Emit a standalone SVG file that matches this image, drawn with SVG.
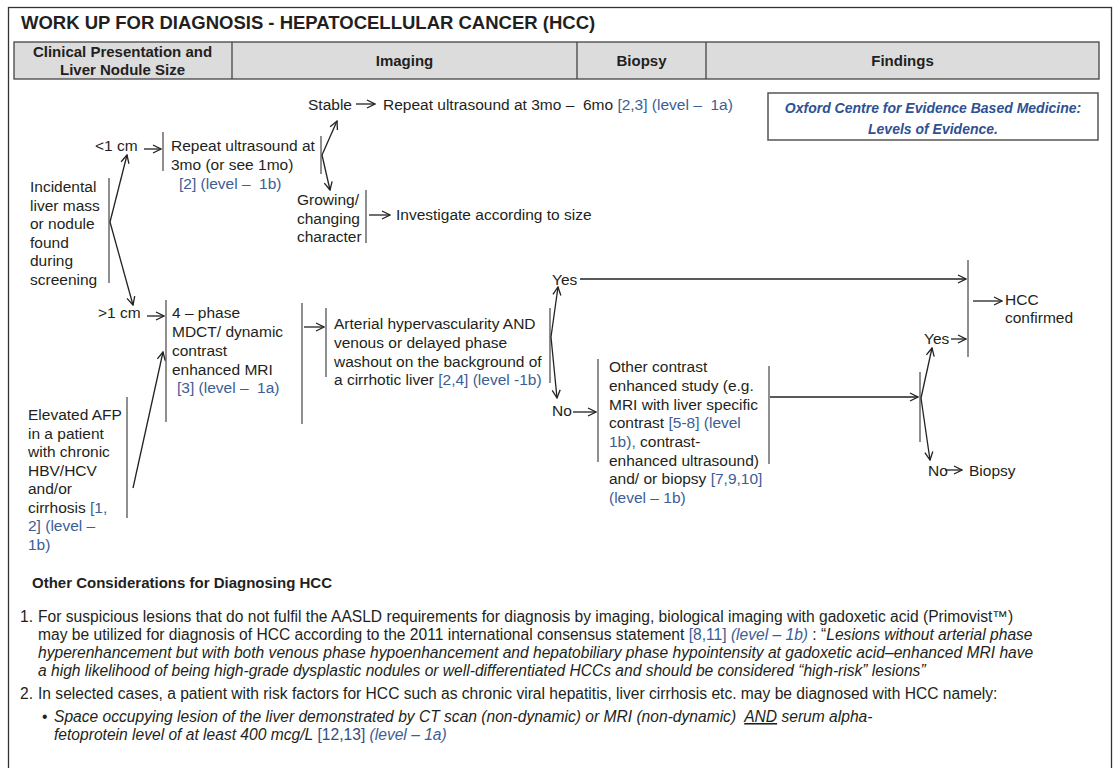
<svg xmlns="http://www.w3.org/2000/svg" width="1118" height="768" viewBox="0 0 1118 768">
<style>
text{font-family:"Liberation Sans",Arial,sans-serif;fill:#231f20;}
.t{font-size:15.5px;}
.n{font-size:15.6px;}
.h{font-size:15px;font-weight:bold;}
.b{fill:#3c5d95;}
.i{font-style:italic;}
.bar{stroke:#6a6a6a;stroke-width:1.5;fill:none;}
.c{stroke:#222;stroke-width:1.3;fill:none;}
</style>
<defs>
<marker id="ah" viewBox="0 0 10 10" markerWidth="10" markerHeight="10" refX="9" refY="5" orient="auto" markerUnits="userSpaceOnUse">
<path d="M1,1 L9,5 L1,9" fill="none" stroke="#222" stroke-width="1.3"/>
</marker>
</defs>
<rect x="0" y="0" width="1118" height="768" fill="#fff"/>
<rect x="8.5" y="7.5" width="1103" height="800" fill="#fff" stroke="#333" stroke-width="1.3"/>
<g id="title">
<text x="21" y="29" style="font-size:18.5px;font-weight:bold">WORK UP FOR DIAGNOSIS - HEPATOCELLULAR CANCER (HCC)</text>
</g>
<g id="header">
<rect x="14" y="42" width="1085" height="37" fill="#dcdcdc" stroke="#444" stroke-width="1.3"/>
<line x1="232" y1="42" x2="232" y2="79" stroke="#444" stroke-width="1.3"/>
<line x1="577" y1="42" x2="577" y2="79" stroke="#444" stroke-width="1.3"/>
<line x1="706" y1="42" x2="706" y2="79" stroke="#444" stroke-width="1.3"/>
<text class="h" x="122.5" y="57" text-anchor="middle">Clinical Presentation and</text>
<text class="h" x="122.5" y="75" text-anchor="middle">Liver Nodule Size</text>
<text class="h" x="404.5" y="66" text-anchor="middle">Imaging</text>
<text class="h" x="641.5" y="66" text-anchor="middle">Biopsy</text>
<text class="h" x="902.5" y="66" text-anchor="middle">Findings</text>
</g>
<g id="oxford">
<rect x="768" y="93" width="330" height="47" fill="#fff" stroke="#555" stroke-width="1.5"/>
<text x="933" y="113" text-anchor="middle" style="font-size:14px;font-weight:bold;font-style:italic;fill:#2f5191">Oxford Centre for Evidence Based Medicine:</text>
<text x="933" y="134" text-anchor="middle" style="font-size:14px;font-weight:bold;font-style:italic;fill:#2f5191">Levels of Evidence.</text>
</g>
<g id="incidental">
<text class="t" x="30" y="192">Incidental</text>
<text class="t" x="30" y="210.5">liver mass</text>
<text class="t" x="30" y="229">or nodule</text>
<text class="t" x="30" y="247.5">found</text>
<text class="t" x="30" y="266">during</text>
<text class="t" x="30" y="285">screening</text>
<line class="bar" x1="109" y1="178" x2="109" y2="283"/>
</g>
<g id="lt1cm">
<text class="t" x="95" y="151">&lt;1 cm</text>
</g>
<g id="repeat-us">
<line class="bar" x1="163" y1="132" x2="163" y2="171"/>
<text class="t" x="171" y="151">Repeat ultrasound at</text>
<text class="t" x="171" y="170">3mo (or see 1mo)</text>
<text class="t b" x="179" y="189">[2] (level –&#160; 1b)</text>
<line class="bar" x1="321" y1="136" x2="321" y2="174"/>
</g>
<g id="stable">
<text class="t" x="308" y="110">Stable</text>
</g>
<g id="repeat-3-6">
<text class="t" x="383" y="110">Repeat ultrasound at 3mo –&#160; 6mo <tspan class="b">[2,3] (level –&#160; 1a)</tspan></text>
</g>
<g id="growing">
<text class="t" x="297" y="205">Growing/</text>
<text class="t" x="297" y="223.5">changing</text>
<text class="t" x="297" y="242">character</text>
<line class="bar" x1="366" y1="190" x2="366" y2="243"/>
</g>
<g id="investigate">
<text class="t" x="396" y="220">Investigate according to size</text>
</g>
<g id="gt1cm">
<text class="t" x="98" y="318">&gt;1 cm</text>
</g>
<g id="elevated-afp">
<text class="t" x="28" y="420">Elevated AFP</text>
<text class="t" x="28" y="438.5">in a patient</text>
<text class="t" x="28" y="457">with chronic</text>
<text class="t" x="28" y="475.5">HBV/HCV</text>
<text class="t" x="28" y="494">and/or</text>
<text class="t" x="28" y="512.5">cirrhosis <tspan class="b">[1,</tspan></text>
<text class="t b" x="28" y="531">2] (level –</text>
<text class="t b" x="28" y="549.5">1b)</text>
<line class="bar" x1="127" y1="397" x2="127" y2="518"/>
</g>
<g id="mdct">
<line class="bar" x1="166" y1="300" x2="166" y2="422"/>
<text class="t" x="172" y="318">4 – phase</text>
<text class="t" x="172" y="337">MDCT/ dynamic</text>
<text class="t" x="172" y="356">contrast</text>
<text class="t" x="172" y="375">enhanced MRI</text>
<text class="t b" x="177" y="393">[3] (level –&#160; 1a)</text>
<line class="bar" x1="302" y1="303" x2="302" y2="424"/>
</g>
<g id="arterial">
<line class="bar" x1="326" y1="308" x2="326" y2="377"/>
<text class="t" x="334" y="329">Arterial hypervascularity AND</text>
<text class="t" x="334" y="348">venous or delayed phase</text>
<text class="t" x="334" y="366.5">washout on the background of</text>
<text class="t" x="334" y="385">a cirrhotic liver <tspan class="b">[2,4] (level -1b)</tspan></text>
<line class="bar" x1="550" y1="308" x2="550" y2="383"/>
</g>
<g id="yes1">
<text class="t" x="552" y="285">Yes</text>
</g>
<g id="no1">
<text class="t" x="552" y="416">No</text>
</g>
<g id="other-contrast">
<line class="bar" x1="598" y1="359" x2="598" y2="462"/>
<text class="t" x="609" y="372">Other contrast</text>
<text class="t" x="609" y="391">enhanced study (e.g.</text>
<text class="t" x="609" y="409.5">MRI with liver specific</text>
<text class="t" x="609" y="428">contrast <tspan class="b">[5-8] (level</tspan></text>
<text class="t" x="609" y="447"><tspan class="b">1b),</tspan> contrast-</text>
<text class="t" x="609" y="465.5">enhanced ultrasound)</text>
<text class="t" x="609" y="484">and/ or biopsy <tspan class="b">[7,9,10]</tspan></text>
<text class="t b" x="609" y="503">(level – 1b)</text>
<line class="bar" x1="769" y1="366" x2="769" y2="464"/>
</g>
<g id="split2">
<line class="bar" x1="920" y1="372" x2="920" y2="442"/>
</g>
<g id="yes2">
<text class="t" x="924" y="344">Yes</text>
</g>
<g id="hcc-confirmed">
<line class="bar" x1="968" y1="260" x2="968" y2="357"/>
<text class="t" x="1005" y="305">HCC</text>
<text class="t" x="1005" y="323">confirmed</text>
</g>
<g id="no2">
<text class="t" x="928" y="476">No</text>
</g>
<g id="biopsy">
<text class="t" x="969" y="476">Biopsy</text>
</g>
<g id="connectors">
<line class="c" x1="356" y1="104" x2="375" y2="104" marker-end="url(#ah)"/>
<line class="c" x1="144" y1="149" x2="161" y2="149" marker-end="url(#ah)"/>
<line class="c" x1="322" y1="155" x2="337" y2="121" marker-end="url(#ah)"/>
<line class="c" x1="322" y1="155" x2="330" y2="190" marker-end="url(#ah)"/>
<line class="c" x1="369" y1="215" x2="390" y2="215" marker-end="url(#ah)"/>
<line class="c" x1="110" y1="222" x2="127" y2="155" marker-end="url(#ah)"/>
<line class="c" x1="110" y1="222" x2="133" y2="305" marker-end="url(#ah)"/>
<line class="c" x1="147" y1="316" x2="164" y2="316" marker-end="url(#ah)"/>
<line class="c" x1="133" y1="488" x2="163" y2="352" marker-end="url(#ah)"/>
<line class="c" x1="304" y1="327" x2="324" y2="327" marker-end="url(#ah)"/>
<line class="c" x1="551" y1="337" x2="558" y2="287" marker-end="url(#ah)"/>
<line class="c" x1="551" y1="337" x2="557" y2="398" marker-end="url(#ah)"/>
<line class="c" x1="580" y1="279" x2="966" y2="279" marker-end="url(#ah)"/>
<line class="c" x1="573" y1="412" x2="596" y2="412" marker-end="url(#ah)"/>
<line class="c" x1="770" y1="397" x2="918" y2="397" marker-end="url(#ah)"/>
<line class="c" x1="921" y1="398" x2="932" y2="348" marker-end="url(#ah)"/>
<line class="c" x1="921" y1="398" x2="930" y2="460" marker-end="url(#ah)"/>
<line class="c" x1="951" y1="339" x2="966" y2="339" marker-end="url(#ah)"/>
<line class="c" x1="973" y1="301" x2="1002" y2="301" marker-end="url(#ah)"/>
<line class="c" x1="945" y1="470" x2="962" y2="470" marker-end="url(#ah)"/>
</g>
<g id="notes">
<text x="32" y="588" style="font-size:15px;font-weight:bold">Other Considerations for Diagnosing HCC</text>
<text class="n" x="20" y="622">1.</text>
<text class="n" x="38" y="622">For suspicious lesions that do not fulfil the AASLD requirements for diagnosis by imaging, biological imaging with gadoxetic acid (Primovist™)</text>
<text class="n" x="38" y="640">may be utilized for diagnosis of HCC according to the 2011 international consensus statement <tspan class="b">[8,11]</tspan> <tspan class="b i">(level – 1b)</tspan> : “<tspan class="i">Lesions without arterial phase</tspan></text>
<text class="n i" x="38" y="658">hyperenhancement but with both venous phase hypoenhancement and hepatobiliary phase hypointensity at gadoxetic acid–enhanced MRI have</text>
<text class="n i" x="38" y="675.5">a high likelihood of being high-grade dysplastic nodules or well-differentiated HCCs and should be considered “high-risk” lesions”</text>
<text class="n" x="20" y="699">2.</text>
<text class="n" x="38" y="699">In selected cases, a patient with risk factors for HCC such as chronic viral hepatitis, liver cirrhosis etc. may be diagnosed with HCC namely:</text>
<text class="n" x="42" y="722">•</text>
<text class="n i" x="54" y="722">Space occupying lesion of the liver demonstrated by CT scan (non-dynamic) or MRI (non-dynamic)&#160; <tspan text-decoration="underline">AND</tspan> serum alpha-</text>
<text class="n" x="54" y="739.5"><tspan class="i">fetoprotein level of at least 400 mcg/L</tspan> <tspan style="fill:#3a4a7c">[12,13]</tspan> <tspan class="b i">(level – 1a)</tspan></text>
</g>
</svg>
